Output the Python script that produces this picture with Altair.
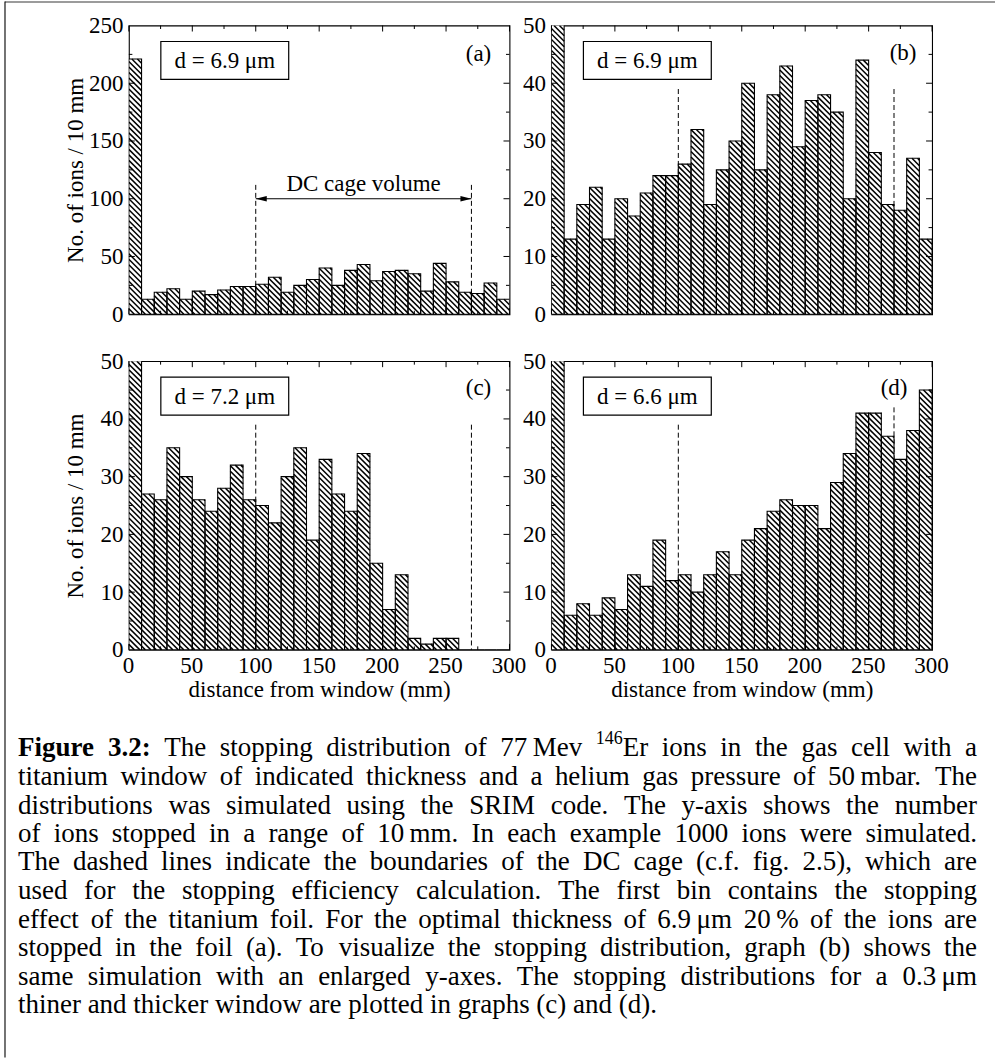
import altair as alt
import numpy as np
import pandas as pd

# ---------------------------------------------------------------------------
# Stopping distributions: 10 mm bins from the window (0 mm) to 300 mm
# ---------------------------------------------------------------------------
bin_starts = list(range(0, 300, 10))
BIN_W = 10

counts_a = [221, 13, 19, 22, 13, 20, 17, 21, 24, 24, 26, 32, 19, 25, 30,
            40, 25, 38, 43, 29, 37, 38, 35, 20, 44, 28, 19, 18, 27, 13]
counts_b = counts_a  # same simulation, enlarged y-axis
counts_c = [455, 27, 26, 35, 30, 26, 24, 28, 32, 26, 25, 22, 30, 35, 19,
            33, 27, 24, 34, 15, 7, 13, 2, 1, 2, 2, 0, 0, 0, 0]
counts_d = [90, 6, 8, 6, 9, 7, 13, 11, 19, 12, 13, 10, 13, 17, 13,
            19, 21, 24, 26, 25, 25, 21, 29, 34, 41, 41, 37, 33, 38, 45]

y_max = [250, 50, 50, 50]
y_step = [50, 10, 10, 10]
thickness = ["d = 6.9 μm", "d = 6.9 μm", "d = 7.2 μm", "d = 6.6 μm"]
panel_tags = ["(a)", "(b)", "(c)", "(d)"]

# DC cage boundaries (mm) and the height the dashed markers reach in each panel
cage_edges = [100, 270]
dash_tops = [[112, 112], [39, 39], [39, 39], [39, 42]]
cage_arrow_y = 100
cage_label_y = 107

x_major = list(range(0, 301, 50))
x_minor = list(range(25, 300, 50))

# caption, one entry per typeset line; a word is a list of (text, style) runs
TS = "\u2009"
caption_text = [
    [[("Figure", "b")], [("3.2:", "b")], "The", "stopping", "distribution", "of",
     "77" + TS + "Mev", [("146", "sup"), ("Er", "r")], "ions", "in", "the", "gas",
     "cell", "with", "a"],
    "titanium window of indicated thickness and a helium gas pressure of 50" + TS + "mbar. The",
    "distributions was simulated using the SRIM code. The y-axis shows the number",
    "of ions stopped in a range of 10" + TS + "mm. In each example 1000 ions were simulated.",
    "The dashed lines indicate the boundaries of the DC cage (c.f. fig. 2.5), which are",
    "used for the stopping efficiency calculation. The first bin contains the stopping",
    "effect of the titanium foil. For the optimal thickness of 6.9" + TS + "μm 20" + TS
    + "% of the ions are",
    "stopped in the foil (a). To visualize the stopping distribution, graph (b) shows the",
    "same simulation with an enlarged y-axes. The stopping distributions for a 0.3" + TS + "μm",
    "thiner and thicker window are plotted in graphs (c) and (d).",
]
caption_rows = [748, 777, 806, 834, 862, 891, 920, 948, 977, 1005]

W, H = 381, 289
FONT = "Liberation Serif"
CAP_SIZE = 27
SUP_SIZE = 18
TEXT_LEFT, TEXT_RIGHT = 18, 978

# advance widths (1/1000 em) of the serif face, used to set justified lines
_REG = dict(zip("abcdefghijklmnopqrstuvwxyz",
                [444, 500, 444, 500, 444, 333, 500, 500, 278, 278, 500, 278, 778,
                 500, 500, 500, 500, 333, 389, 278, 500, 500, 722, 500, 500, 444]))
_REG.update(dict(zip("ABCDEFGHIJKLMNOPQRSTUVWXYZ",
                     [722, 667, 667, 722, 611, 556, 722, 722, 333, 389, 722, 611, 889,
                      722, 722, 556, 722, 667, 556, 611, 722, 722, 944, 722, 722, 611])))
_REG.update({c: 500 for c in "0123456789"})
_REG.update({".": 250, ",": 250, ":": 278, "(": 333, ")": 333, "-": 333, "%": 833,
             "μ": 560, TS: 200, " ": 250})
_BOLD = dict(_REG)
_BOLD.update({"F": 611, "i": 278, "g": 500, "u": 556, "r": 444, "e": 444, ":": 333})


def run_width(text, style):
    table = _BOLD if style == "b" else _REG
    size = SUP_SIZE if style == "sup" else CAP_SIZE
    return sum(table.get(ch, 500) for ch in text) * size / 1000.0


def caption_frame():
    rows = []
    for li, (line, y) in enumerate(zip(caption_text, caption_rows)):
        words = line.split(" ") if isinstance(line, str) else line
        words = [[(w, "r")] if isinstance(w, str) else w for w in words]
        widths = [sum(run_width(t, s) for t, s in w) for w in words]
        last = li == len(caption_text) - 1
        if last:
            gap = run_width(" ", "r")
        else:
            gap = (TEXT_RIGHT - TEXT_LEFT - sum(widths)) / (len(words) - 1)
        x = TEXT_LEFT
        for wi, (w, wd) in enumerate(zip(words, widths)):
            rx = x
            for t, s in w:
                rows.append({"t": t, "style": s, "px": rx,
                             "py": y - 9 if s == "sup" else y,
                             "align": "left"})
                rx += run_width(t, s)
            if not last and wi == len(words) - 1 and len(w) == 1:
                rows[-1]["px"] = TEXT_RIGHT
                rows[-1]["align"] = "right"
            x += wd + gap
    return pd.DataFrame(rows)


def hatch_segments(starts, counts, ymax, spacing=5.5):
    """Diagonal hatch lines clipped to each bar, returned in data units."""
    sx = W / 300.0
    sy = H / float(ymax)
    rows = []
    for s, v in zip(starts, counts):
        h = min(v, ymax) * sy
        if h <= 0:
            continue
        x0, x1 = s * sx, (s + BIN_W) * sx
        k0 = int(np.floor(x0 / spacing))
        k1 = int(np.ceil((x1 + h) / spacing))
        for k in range(k0, k1 + 1):
            c = k * spacing
            xa = max(x0, c - h)
            xb = min(x1, c)
            if xb - xa > 0.05:
                rows.append({"hx": xa / sx, "hx2": xb / sx,
                             "hy": (c - xa) / sy, "hy2": (c - xb) / sy})
    return pd.DataFrame(rows)


one = pd.DataFrame({"k": [0]})
AXIS_TEXT = dict(labelFont=FONT, labelFontSize=23, labelColor="black",
                 titleFont=FONT, titleFontSize=23, titleFontWeight="normal",
                 titleColor="black", labelFlush=False, ticks=False, domain=False,
                 grid=False)


def panel(idx, counts, bottom_row, left_col, tag_x, tag_y, extra=None):
    ymax = y_max[idx]
    xs = alt.Scale(domain=[0, 300], nice=False, zero=False)
    ys = alt.Scale(domain=[0, ymax], nice=False, zero=True)

    if bottom_row:
        xaxis = alt.Axis(values=x_major, title="distance from window (mm)",
                         labelPadding=5, labelOffset=-1, titleX=W / 2, titleY=47,
                         titleBaseline="alphabetic", titleAlign="center", **AXIS_TEXT)
    else:
        xaxis = None
    yaxis = alt.Axis(values=list(range(0, ymax + 1, y_step[idx])), labelPadding=6,
                     title="No. of ions / 10 mm" if left_col else "",
                     titleX=-46, titleY=H / 2, titleAngle=270,
                     titleAlign="center", titleBaseline="alphabetic", **AXIS_TEXT)

    def X(field):
        return alt.X(field, scale=xs, axis=xaxis)

    def Y(field):
        return alt.Y(field, scale=ys, axis=yaxis)

    bars = pd.DataFrame({"start": bin_starts,
                         "end": [s + BIN_W for s in bin_starts],
                         "count": counts, "base": 0})
    dashes = pd.DataFrame({"edge": cage_edges, "top": dash_tops[idx], "base": 0})
    hatch = hatch_segments(bin_starts, counts, ymax)

    dashed = alt.Chart(dashes).mark_rule(color="black", strokeWidth=1, strokeDash=[5, 3]).encode(
        x=X("edge:Q"), y=Y("top:Q"), y2="base:Q")
    fill = alt.Chart(bars).mark_rect(fill="white", strokeWidth=0, clip=True).encode(
        x=X("start:Q"), x2="end:Q", y=Y("count:Q"), y2="base:Q")
    hatch_l = alt.Chart(hatch).mark_rule(color="black", strokeWidth=1.5, clip=True).encode(
        x=X("hx:Q"), x2="hx2:Q", y=Y("hy:Q"), y2="hy2:Q")
    outline = alt.Chart(bars).mark_rect(filled=False, stroke="black", strokeWidth=1.1,
                                        clip=True).encode(
        x=X("start:Q"), x2="end:Q", y=Y("count:Q"), y2="base:Q")

    # inward ticks on all four sides of the frame
    y_major_vals = list(range(y_step[idx], ymax, y_step[idx]))
    y_minor_vals = [v + y_step[idx] / 2 for v in range(0, ymax, y_step[idx])]
    ticks = []
    for vals, ln in ((y_major_vals, 6), (y_minor_vals, 3.5)):
        base = alt.Chart(pd.DataFrame({"v": vals}))
        ticks.append(base.mark_rule(color="black", strokeWidth=1).encode(
            y=Y("v:Q"), x=alt.value(0), x2=alt.value(ln)))
        ticks.append(base.mark_rule(color="black", strokeWidth=1).encode(
            y=Y("v:Q"), x=alt.value(W - ln), x2=alt.value(W)))
    for vals, ln in ((x_major, 6), (x_minor, 3.5)):
        base = alt.Chart(pd.DataFrame({"v": vals}))
        ticks.append(base.mark_rule(color="black", strokeWidth=1).encode(
            x=X("v:Q"), y=alt.value(0), y2=alt.value(ln)))
        ticks.append(base.mark_rule(color="black", strokeWidth=1).encode(
            x=X("v:Q"), y=alt.value(H - ln), y2=alt.value(H)))

    box = alt.Chart(one).mark_rect(fill="white", stroke="black", strokeWidth=1.2).encode(
        x=alt.value(32), x2=alt.value(160), y=alt.value(16), y2=alt.value(54))
    box_text = alt.Chart(one).mark_text(font=FONT, fontSize=23, align="center",
                                        baseline="alphabetic", color="black",
                                        text=thickness[idx]).encode(
        x=alt.value(96), y=alt.value(43))
    tag = alt.Chart(one).mark_text(font=FONT, fontSize=23, align="center",
                                   baseline="alphabetic", color="black",
                                   text=panel_tags[idx]).encode(
        x=alt.value(tag_x), y=alt.value(tag_y))

    layers = [dashed, fill, hatch_l, outline] + ticks + [box, box_text, tag]

    if extra == "cage":
        arrow_df = pd.DataFrame({"x0": [cage_edges[0]], "x1": [cage_edges[1]],
                                 "y": [cage_arrow_y]})
        layers.append(alt.Chart(arrow_df).mark_rule(color="black", strokeWidth=1.2).encode(
            x=X("x0:Q"), x2="x1:Q", y=Y("y:Q")))
        head_df = pd.DataFrame({"x": cage_edges, "y": [cage_arrow_y] * 2,
                                "shape": ["M0,0L2,-0.5L2,0.5Z", "M0,0L-2,-0.5L-2,0.5Z"]})
        layers.append(alt.Chart(head_df).mark_point(filled=True, color="black", size=121,
                                                    opacity=1).encode(
            x=X("x:Q"), y=Y("y:Q"),
            shape=alt.Shape("shape:N", scale=None, legend=None)))
        label_df = pd.DataFrame({"x": [sum(cage_edges) / 2], "y": [cage_label_y],
                                 "t": ["DC cage volume"]})
        layers.append(alt.Chart(label_df).mark_text(
            font=FONT, fontSize=23, align="center", baseline="alphabetic",
            color="black").encode(x=X("x:Q"), y=Y("y:Q"), text="t:N"))

    return alt.layer(*layers).properties(width=W, height=H)


pa = panel(0, counts_a, False, True, 350, 36, extra="cage")
pb = panel(1, counts_b, False, False, 352, 35)
pc = panel(2, counts_c, True, True, 350, 34)
pd_ = panel(3, counts_d, True, False, 343, 34)

# ---- caption and page frame, in a strip below the panels -------------------
OX, OY = 129, 25 + H + 47 + H + 47
cap = caption_frame()
cap["px"] = cap["px"] - OX
cap["py"] = cap["py"] - OY

cap_layers = []
for style, size, weight in (("r", CAP_SIZE, "normal"), ("b", CAP_SIZE, "bold"),
                            ("sup", SUP_SIZE, "normal")):
    for align in ("left", "right"):
        sub = cap[(cap["style"] == style) & (cap["align"] == align)]
        if len(sub) == 0:
            continue
        cap_layers.append(alt.Chart(sub).mark_text(
            font=FONT, fontSize=size, fontWeight=weight, align=align,
            baseline="middle", color="black").encode(
            x=alt.X("px:Q", scale=None), y=alt.Y("py:Q", scale=None), text="t:N"))

page = alt.Chart(one).mark_rect(fill="transparent", strokeWidth=0).encode(
    x=alt.value(-OX), x2=alt.value(996 - OX), y=alt.value(-OY), y2=alt.value(1061 - OY))
top_line = alt.Chart(one).mark_rule(color="#7a7a7a", strokeWidth=1.6).encode(
    x=alt.value(5 - OX), x2=alt.value(996 - OX), y=alt.value(1.5 - OY))
left_line = alt.Chart(one).mark_rule(color="black", strokeWidth=1.1).encode(
    x=alt.value(5 - OX), y=alt.value(1 - OY), y2=alt.value(1058 - OY))

caption_strip = alt.layer(page, top_line, left_line, *cap_layers).properties(
    width=W, height=1,
    view=alt.ViewBackground(stroke="transparent", strokeWidth=0))

chart = alt.concat(pa, pb, pc, pd_, caption_strip, columns=2,
                   spacing={"row": 47, "column": 42},
                   bounds="flush").properties(padding=0).configure(
    font=FONT
).configure_view(
    stroke="black", strokeWidth=1.1
).configure_axis(**AXIS_TEXT)

chart.save("out.html", embed_options={"renderer": "svg", "actions": False})
